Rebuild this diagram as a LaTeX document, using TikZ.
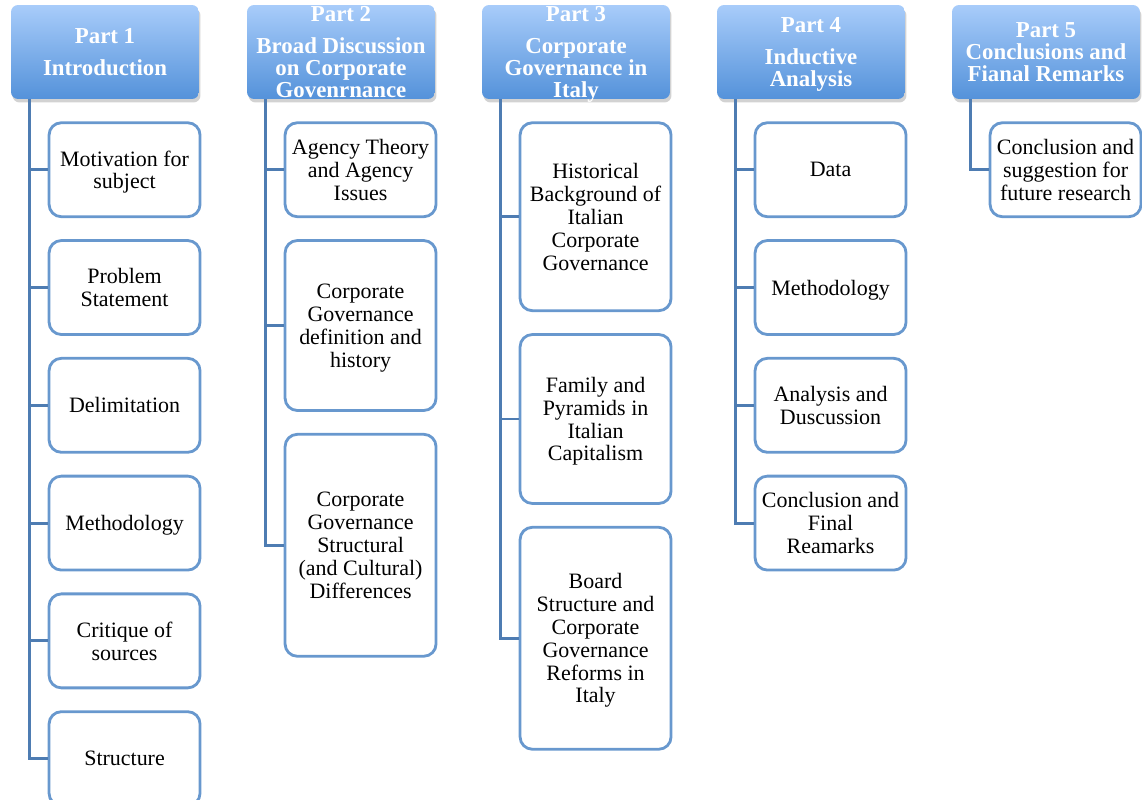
\documentclass[tikz,border=0pt]{standalone}
\usepackage{fontspec}
\setmainfont{Liberation Serif}
\usetikzlibrary{positioning, shadows}

\definecolor{boxline}{RGB}{104,152,206}
\definecolor{linkline}{RGB}{78,124,178}
\definecolor{headtop}{RGB}{168,204,250}
\definecolor{headbot}{RGB}{84,146,218}

\begin{document}
\begin{tikzpicture}[x=0.02cm, y=-0.02cm,
    part/.style={rounded corners=4pt, top color=headtop, bottom color=headbot,
        minimum width=3.76cm, minimum height=1.88cm, inner ysep=-0.4cm,
        text=white, align=center, font=\fontsize{13}{12.5}\selectfont\bfseries,
        text depth=-5pt,
        drop shadow={shadow xshift=0.03cm, shadow yshift=-0.07cm, opacity=0.25, fill=black!70}},
    item/.style={draw=boxline, line width=1.6pt, rounded corners=7pt, fill=white,
        minimum width=3.02cm, minimum height=1.88cm, align=center,
        font=\fontsize{12.5}{13}\selectfont, text depth=-6pt},
    link/.style={draw=linkline, line width=1.6pt},
    node distance=0.42cm]
    \useasboundingbox (0,0) rectangle (1142,800);

    % headers
    \node[part] (h1) at (105,52) {Part 1\\[6pt] Introduction};
    \node[part] (h2) at (341,52) {Part 2\\[6pt] Broad Discussion\\ on Corporate\\ Govenrnance};
    \node[part] (h3) at (576,52) {Part 3\\[6pt] Corporate\\ Governance in\\ Italy};
    \node[part] (h4) at (811,52) {Part 4\\[6pt] Inductive\\ Analysis};
    \node[part] (h5) at (1046,52) {Part 5\\ Conclusions and\\ Fianal Remarks};

    % part 1
    \node[item, anchor=north west] (a1) at ([xshift=0.74cm, yshift=-0.44cm]h1.south west) {Motivation for\\ subject};
    \node[item, below=of a1] (a2) {Problem\\ Statement};
    \node[item, below=of a2] (a3) {Delimitation};
    \node[item, below=of a3] (a4) {Methodology};
    \node[item, below=of a4] (a5) {Critique of\\ sources};
    \node[item, below=of a5] (a6) {Structure};

    % part 2
    \node[item, anchor=north west] (b1) at ([xshift=0.74cm, yshift=-0.44cm]h2.south west) {Agency Theory\\ and Agency\\ Issues};
    \node[item, below=of b1, minimum height=3.4cm] (b2) {Corporate\\ Governance\\ definition and\\ history};
    \node[item, below=of b2, minimum height=4.44cm] (b3) {Corporate\\ Governance\\ Structural\\ (and Cultural)\\ Differences};

    % part 3
    \node[item, anchor=north west, minimum height=3.76cm] (c1) at ([xshift=0.74cm, yshift=-0.44cm]h3.south west) {Historical\\ Background of\\ Italian\\ Corporate\\ Governance};
    \node[item, below=of c1, minimum height=3.38cm] (c2) {Family and\\ Pyramids in\\ Italian\\ Capitalism};
    \node[item, below=of c2, minimum height=4.44cm] (c3) {Board\\ Structure and\\ Corporate\\ Governance\\ Reforms in\\ Italy};

    % part 4
    \node[item, anchor=north west] (d1) at ([xshift=0.74cm, yshift=-0.44cm]h4.south west) {Data};
    \node[item, below=of d1] (d2) {Methodology};
    \node[item, below=of d2] (d3) {Analysis and\\ Duscussion};
    \node[item, below=of d3] (d4) {Conclusion and\\ Final\\ Reamarks};

    % part 5
    \node[item, anchor=north west] (e1) at ([xshift=0.74cm, yshift=-0.44cm]h5.south west) {Conclusion and\\ suggestion for\\ future research};

    % connectors
    \draw[link] ([xshift=0.38cm]h1.south west) |- (a1.west);
    \draw[link] ([xshift=0.38cm]h1.south west) |- (a2.west);
    \draw[link] ([xshift=0.38cm]h1.south west) |- (a3.west);
    \draw[link] ([xshift=0.38cm]h1.south west) |- (a4.west);
    \draw[link] ([xshift=0.38cm]h1.south west) |- (a5.west);
    \draw[link] ([xshift=0.38cm]h1.south west) |- (a6.west);
    \draw[link] ([xshift=0.38cm]h2.south west) |- (b1.west);
    \draw[link] ([xshift=0.38cm]h2.south west) |- (b2.west);
    \draw[link] ([xshift=0.38cm]h2.south west) |- (b3.west);
    \draw[link] ([xshift=0.38cm]h3.south west) |- (c1.west);
    \draw[link] ([xshift=0.38cm]h3.south west) |- (c2.west);
    \draw[link] ([xshift=0.38cm]h3.south west) |- (c3.west);
    \draw[link] ([xshift=0.38cm]h4.south west) |- (d1.west);
    \draw[link] ([xshift=0.38cm]h4.south west) |- (d2.west);
    \draw[link] ([xshift=0.38cm]h4.south west) |- (d3.west);
    \draw[link] ([xshift=0.38cm]h4.south west) |- (d4.west);
    \draw[link] ([xshift=0.38cm]h5.south west) |- (e1.west);
\end{tikzpicture}
\end{document}
